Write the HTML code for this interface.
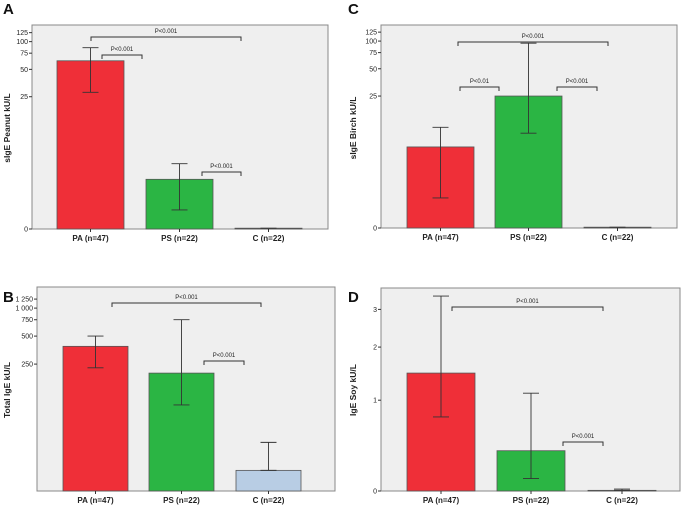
<!DOCTYPE html>
<html><head><meta charset="utf-8"><style>
body{margin:0;background:#fff}
svg{display:block;font-family:"Liberation Sans",Arial,sans-serif}
</style></head><body>
<svg id="c" width="685" height="505" viewBox="0 0 685 505"></svg>
<script>
const categories=["PA (n=47)","PS (n=22)","C (n=22)"];
const colors=["#ef2f38","#2bb544","#b8cde4"];
const peanutVals=[62,2.4,0.02];
const peanutHi=[86,4,0.02];
const peanutLo=[28,0.6,0.02];
const totalVals=[388,200,18];
const totalHi=[500,750,36];
const totalLo=[228,91,18];
const birchVals=[6.4,25,0.02];
const birchHi=[11,95,0.02];
const birchLo=[1.1,9.4,0.02];
const soyVals=[1.46,0.36,0.005];
const soyHi=[3.43,1.11,0.015];
const soyLo=[0.76,0.1,0.005];
const ticksA=[0,25,50,75,100,125];
const ticksB=[250,500,750,1000,1250];
const tickLabelsB=["250","500","750","1 000","1 250"];
const ticksD=[0,1,2,3];
const NS="http://www.w3.org/2000/svg";
const svg=document.getElementById('c');
function el(tag,attrs,parent){const e=document.createElementNS(NS,tag);for(const k in attrs)e.setAttribute(k,attrs[k]);(parent||svg).appendChild(e);return e;}
function txt(s,attrs,parent){const t=el('text',attrs,parent);t.textContent=s;return t;}

function panel(p){
  const g=el('g',{});
  
  
  const L=txt(p.letter,{x:p.lx,y:p.ly,'font-size':15,'font-weight':'bold',fill:'#111'},g);
  
  
  const bg=el('rect',{x:p.x0,y:p.top,width:p.x1-p.x0,height:p.bot-p.top,fill:'#efefef',stroke:'#888','stroke-width':1},g);
  
  
  const Y=v=>p.bot-p.k*p.f(v);
  // ticks
  p.ticks.forEach((t,i)=>{
    const y=Y(t);
    el('line',{x1:p.x0-3,x2:p.x0,y1:y,y2:y,stroke:'#333','stroke-width':1},g);
    const tl=txt(p.tickLabels?p.tickLabels[i]:String(t),{x:p.x0-4,y:y+2.5,'font-size':7,'text-anchor':'end',fill:'#222'},g);
    
    
  });
  // y title
  const yt=txt(p.ytitle,{x:0,y:0,'font-size':8.5,'font-weight':'bold',fill:'#222','text-anchor':'middle',transform:`translate(${p.tx},${p.ty}) rotate(-90)`},g);
  
  
  categories.forEach((c,i)=>{
    const bx=p.bx[i], w=p.bw, cx=bx+w/2;
    const yv=Y(p.vals[i]);
    const r=el('rect',{x:bx,y:yv,width:w,height:Math.max(p.bot-yv,0.5),fill:colors[i],stroke:'#555','stroke-width':0.8},g);
    
    
    const yh=Y(p.hi[i]), yl=Y(p.lo[i]);
    const eb=el('path',{d:`M${cx},${yh}V${yl}M${cx-8},${yh}H${cx+8}M${cx-8},${yl}H${cx+8}`,stroke:'#333','stroke-width':0.9,fill:'none'},g);
    
    
    el('line',{x1:cx,x2:cx,y1:p.bot,y2:p.bot+3,stroke:'#333'},g);
    const xl=txt(c,{x:cx,y:p.bot+12,'font-size':8,'font-weight':'bold','text-anchor':'middle',fill:'#222'},g);
    
    
  });
  p.brackets.forEach(b=>{
    const [xa,xb,y,lab]=b;
    const br=el('path',{d:`M${xa},${y+4}V${y}H${xb}V${y+4}`,stroke:'#333','stroke-width':1,fill:'none'},g);
    
    
    const bl=txt(lab,{x:(xa+xb)/2,y:y-4,'font-size':6,'text-anchor':'middle',fill:'#222'},g);
    
    
  });
}
const lnp=v=>Math.log(v+1);
panel({name:'panel-a-peanut',letter:'A',lx:3,ly:14,x0:32,x1:328,top:25,bot:229,k:40.6,f:lnp,ticks:ticksA,
  ytitle:'sIgE Peanut  kU/L',tx:10,ty:128,bx:[57,146,235],bw:67,vals:peanutVals,hi:peanutHi,lo:peanutLo,
  brackets:[[91,241,37,'P<0.001'],[102,142,55,'P<0.001'],[202,241,172,'P<0.001']]});
panel({name:'panel-b-total-ige',letter:'B',lx:3,ly:302,x0:37,x1:335,top:287,bot:491,k:93,f:v=>Math.log10(v/10.8),ticks:ticksB,tickLabels:tickLabelsB,
  ytitle:'Total IgE  kU/L',tx:10,ty:390,bx:[63,149,236],bw:65,vals:totalVals,hi:totalHi,lo:totalLo,
  brackets:[[112,261,303,'P<0.001'],[204,244,361,'P<0.001']]});
panel({name:'panel-c-birch',letter:'C',lx:348,ly:14,x0:381,x1:677,top:25,bot:228,k:40.5,f:lnp,ticks:ticksA,
  ytitle:'sIgE Birch  kU/L',tx:356,ty:128,bx:[407,495,584],bw:67,vals:birchVals,hi:birchHi,lo:birchLo,
  brackets:[[458,608,42,'P<0.001'],[460,499,87,'P<0.01'],[557,597,87,'P<0.001']]});
panel({name:'panel-d-soy',letter:'D',lx:348,ly:302,x0:381,x1:680,top:288,bot:491,k:131,f:lnp,ticks:ticksD,
  ytitle:'IgE Soy kU/L',tx:356,ty:390,bx:[407,497,588],bw:68,vals:soyVals,hi:soyHi,lo:soyLo,
  brackets:[[452,603,307,'P<0.001'],[563,603,442,'P<0.001']]});
</script>
</body></html>
